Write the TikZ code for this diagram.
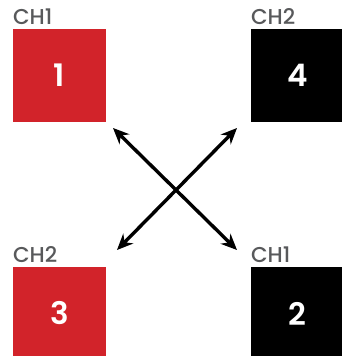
\documentclass[tikz,border=0pt]{standalone}
\usepackage{fontspec}
\setmainfont{Poppins}[BoldFont={* SemiBold}]
\newfontfamily\chfont{Poppins Medium}
\usetikzlibrary{arrows.meta,positioning}
\definecolor{chred}{RGB}{210,35,42}
\definecolor{chgray}{RGB}{88,89,91}
\tikzset{>={Stealth[length=16pt,width=14pt]}}
\tikzset{
    chbox/.style={minimum size=93pt,inner sep=0pt,text=white,
        font=\fontsize{31}{31}\selectfont\bfseries},
    chlabel/.style={inner sep=0pt,text=chgray,anchor=base west,
        font=\chfont\fontsize{21.5}{21.5}\selectfont}
}

\begin{document}
\begin{tikzpicture}[x=1pt,y=-1pt]
    \useasboundingbox (0,0) rectangle (341,356);
    \node[chbox,fill=chred] (b1) at (59.5,75.5)   {1};
    \node[chbox,fill=black] (b4) at (297.5,75.5)  {4};
    \node[chbox,fill=chred] (b3) at (59.5,313.5)  {3};
    \node[chbox,fill=black] (b2) at (297.5,313.5) {2};
    \node[chlabel] (l1) at ([yshift=4pt]b1.north west) {CH1};
    \node[chlabel] (l4) at ([yshift=4pt]b4.north west) {CH2};
    \node[chlabel] (l3) at ([yshift=4pt]b3.north west) {CH2};
    \node[chlabel] (l2) at ([yshift=4pt]b2.north west) {CH1};
    % arrow ends
    \coordinate (p1) at (113,128);
    \coordinate (p2) at (237,250);
    \coordinate (p4) at (237,128);
    \coordinate (p3) at (117,250);
    \draw[<->,line width=3.4pt] (p1) -- (p2);
    \draw[<->,line width=3.4pt] (p4) -- (p3);
\end{tikzpicture}
\end{document}
